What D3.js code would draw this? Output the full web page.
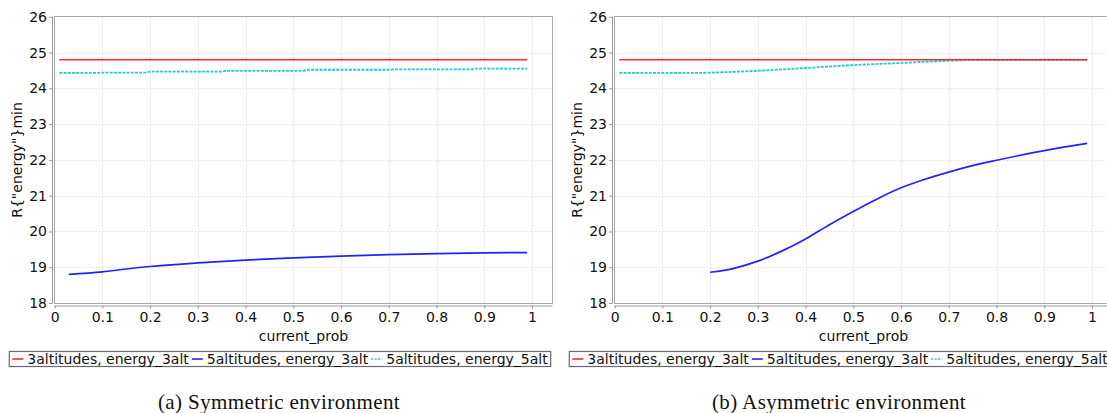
<!DOCTYPE html>
<html>
<head>
<meta charset="utf-8">
<script src="https://cdn.jsdelivr.net/npm/d3@7"></script>
<style>
  html, body { margin: 0; padding: 0; background: #fff; }
  svg { display: block; }
  .tick-label { font-family: "DejaVu Sans", sans-serif; font-size: 14px; fill: #111; }
  .axis-title { font-family: "DejaVu Sans", sans-serif; font-size: 14px; fill: #111; }
  .legend-text { font-family: "DejaVu Sans", sans-serif; font-size: 14px; fill: #111; }
  .caption { font-family: "Liberation Serif", serif; font-size: 21px; letter-spacing: 0.4px; fill: #111; }
</style>
</head>
<body>
<svg id="chart" width="1107" height="413"></svg>
<script>
// ---- data ----
const xTickValues = [0, 0.1, 0.2, 0.3, 0.4, 0.5, 0.6, 0.7, 0.8, 0.9, 1];
const xTickLabels = ["0", "0.1", "0.2", "0.3", "0.4", "0.5", "0.6", "0.7", "0.8", "0.9", "1"];
const yTickValues = [18, 19, 20, 21, 22, 23, 24, 25, 26];
const yTickLabels = ["18", "19", "20", "21", "22", "23", "24", "25", "26"];

const seriesNames = ["3altitudes, energy_3alt", "5altitudes, energy_3alt", "5altitudes, energy_5alt"];
const xAxisTitle = "current_prob";
const yAxisTitle = 'R{"energy"}min';
const captions = ["(a) Symmetric environment", "(b) Asymmetric environment"];

// (a) symmetric environment
const symRedX = [0.01, 0.99];
const symRedY = [24.8, 24.8];
const symBlueX = [0.03, 0.1, 0.15, 0.2, 0.3, 0.4, 0.5, 0.6, 0.7, 0.8, 0.9, 0.99];
const symBlueY = [18.80, 18.87, 18.95, 19.02, 19.12, 19.20, 19.26, 19.31, 19.35, 19.38, 19.40, 19.41];
const symCyanX = [0.01, 0.09, 0.1, 0.19, 0.2, 0.35, 0.36, 0.52, 0.53, 0.70, 0.71, 0.87, 0.88, 0.99];
const symCyanY = [24.43, 24.43, 24.44, 24.44, 24.47, 24.47, 24.49, 24.49, 24.52, 24.52, 24.53, 24.53, 24.55, 24.55];

// (b) asymmetric environment
const asymRedX = [0.01, 0.99];
const asymRedY = [24.8, 24.8];
const asymBlueX = [0.2, 0.25, 0.3, 0.35, 0.4, 0.45, 0.5, 0.55, 0.6, 0.65, 0.7, 0.75, 0.8, 0.85, 0.9, 0.99];
const asymBlueY = [18.86, 18.97, 19.17, 19.45, 19.79, 20.19, 20.56, 20.91, 21.22, 21.46, 21.66, 21.84, 21.99, 22.13, 22.26, 22.46];
const asymCyanX = [0.01, 0.16, 0.2, 0.3, 0.4, 0.5, 0.6, 0.68, 0.75, 0.99];
const asymCyanY = [24.43, 24.43, 24.44, 24.49, 24.57, 24.65, 24.71, 24.76, 24.79, 24.79];

// ---- styles ----
const seriesColors = ["#ff2a2a", "#2222ff", "#22cccc"];
const seriesDash = [null, null, "3,1.2"];

const zip = (xs, ys) => xs.map((x, i) => ({ x: x, y: ys[i] }));

const panels = [
  {
    offset: 0,
    caption: captions[0],
    series: [zip(symRedX, symRedY), zip(symBlueX, symBlueY), zip(symCyanX, symCyanY)],
    order: [2, 1, 0]
  },
  {
    offset: 560,
    caption: captions[1],
    series: [zip(asymRedX, asymRedY), zip(asymBlueX, asymBlueY), zip(asymCyanX, asymCyanY)],
    order: [2, 1, 0]
  }
];

const svg = d3.select("#chart");

// panel geometry (panel-local coordinates)
const plotLeft = 54.5, plotTop = 16.5, plotBottom = 303.5;
const xScale = d3.scaleLinear().domain([0, 1]).range([54.6, 532]);
const plotRight = Math.round(xScale(1.042)) + 0.5;
const yScale = d3.scaleLinear().domain([18, 26]).range([303, 16.8]);
const panelWidth = 560;

panels.forEach(p => {
  const g = svg.append("g").attr("transform", `translate(${p.offset},0)`);

  // grid lines
  g.append("g").selectAll("line.vgrid")
    .data(xTickValues.filter(v => v > 0))
    .join("line")
    .attr("x1", d => Math.round(xScale(d)) + 0.5).attr("x2", d => Math.round(xScale(d)) + 0.5)
    .attr("y1", plotTop).attr("y2", plotBottom)
    .attr("stroke", "#e2e2e2").attr("stroke-width", 1).attr("stroke-dasharray", "2,2");
  g.append("g").selectAll("line.hgrid")
    .data(yTickValues.filter(v => v > 18 && v < 26))
    .join("line")
    .attr("y1", d => Math.round(yScale(d)) + 0.5).attr("y2", d => Math.round(yScale(d)) + 0.5)
    .attr("x1", plotLeft).attr("x2", plotRight)
    .attr("stroke", "#e2e2e2").attr("stroke-width", 1).attr("stroke-dasharray", "2,2");

  // plot outline
  g.append("rect")
    .attr("x", plotLeft).attr("y", plotTop)
    .attr("width", plotRight - plotLeft).attr("height", plotBottom - plotTop)
    .attr("fill", "none").attr("stroke", "#a8a8a8").attr("stroke-width", 1);

  // y axis (offset from the plot)
  const yAxis = d3.axisLeft(yScale)
    .tickValues(yTickValues)
    .tickFormat((d, i) => yTickLabels[i])
    .tickSize(3).tickPadding(2);
  const ya = g.append("g").attr("transform", `translate(${plotLeft - 2.5},0)`).call(yAxis);
  ya.select(".domain").attr("stroke", "#9a9a9a").attr("d", `M0.5,${plotTop}V${plotBottom}`);
  ya.selectAll(".tick line").attr("stroke", "#9a9a9a");
  ya.selectAll(".tick text").attr("class", "tick-label").attr("fill", null);

  // x axis
  const xAxis = d3.axisBottom(xScale)
    .tickValues(xTickValues)
    .tickFormat((d, i) => xTickLabels[i])
    .tickSize(3).tickPadding(4);
  const xa = g.append("g").attr("transform", `translate(0,${plotBottom + 2})`).call(xAxis);
  xa.select(".domain").attr("stroke", "#9a9a9a").attr("d", `M${plotLeft},0.5H${plotRight}`);
  xa.selectAll(".tick line").attr("stroke", "#9a9a9a");
  xa.selectAll(".tick text").attr("class", "tick-label").attr("fill", null);

  // axis titles
  g.append("text").attr("class", "axis-title")
    .attr("x", (plotLeft + plotRight) / 2).attr("y", 341)
    .attr("text-anchor", "middle").text(xAxisTitle);
  g.append("text").attr("class", "axis-title")
    .attr("transform", `translate(22,${(plotTop + plotBottom) / 2}) rotate(-90)`)
    .attr("text-anchor", "middle").text(yAxisTitle);

  // series lines
  const line = d3.line().x(d => xScale(d.x)).y(d => yScale(d.y)).curve(d3.curveMonotoneX);
  p.order.forEach(i => {
    g.append("path")
      .datum(p.series[i])
      .attr("d", line)
      .attr("fill", "none")
      .attr("stroke", seriesColors[i])
      .attr("stroke-width", i === 2 ? 1.8 : 1.7)
      .attr("stroke-dasharray", seriesDash[i]);
  });

  // legend
  const lg = g.append("g");
  const box = lg.append("rect")
    .attr("y", 351.5).attr("height", 15)
    .attr("fill", "#fff").attr("stroke", "#6a6a6a").attr("stroke-width", 1.2);
  let cx = 0;
  const items = [];
  seriesNames.forEach((name, i) => {
    const it = lg.append("g");
    it.append("line")
      .attr("x1", cx).attr("x2", cx + 11).attr("y1", 359).attr("y2", 359)
      .attr("stroke", seriesColors[i]).attr("stroke-width", 1.6)
      .attr("stroke-dasharray", seriesDash[i] ? "2,1.5" : null);
    const t = it.append("text").attr("class", "legend-text")
      .attr("x", cx + 15).attr("y", 364).text(name);
    cx += 15 + t.node().getComputedTextLength() + 3;
    items.push(it);
  });
  const total = cx - 3;
  const start = panelWidth / 2 - total / 2;
  items.forEach(it => it.attr("transform", `translate(${start},0)`));
  box.attr("x", start - 3).attr("width", total + 6);

  // caption
  g.append("text").attr("class", "caption")
    .attr("x", panelWidth / 2 - 1).attr("y", 409)
    .attr("text-anchor", "middle").text(p.caption);
});
</script>
</body>
</html>
